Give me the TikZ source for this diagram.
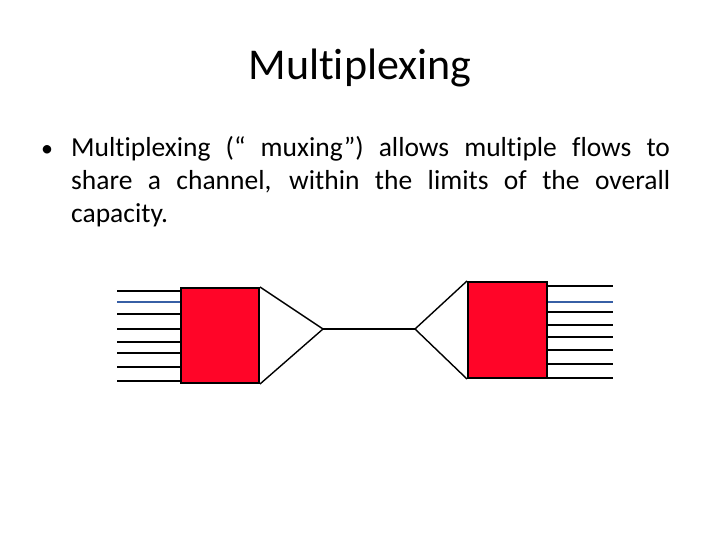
\documentclass[tikz,border=0pt]{standalone}
\usepackage{fontspec}
\setmainfont[Ligatures={NoCommon}]{Carlito}
\usetikzlibrary{positioning}
\definecolor{muxred}{RGB}{255,5,40}
\definecolor{flowblue}{RGB}{55,95,165}
\tikzset{
  muxbox/.style={draw=black, line width=2pt, fill=muxred, inner sep=0pt},
  funnel/.style={draw=black, line width=1.4pt, line join=miter},
  flow/.style={line width=#1, black},
}
\begin{document}
\begin{tikzpicture}[x=1pt, y=-1pt]
  \useasboundingbox (0,0) rectangle (720,540);

  % title and bullet text
  \node[font=\fontsize{44}{52}\selectfont] (title) at (360,68) {Multiplexing};
  \node[anchor=base west, font=\fontsize{24}{33}\selectfont, inner sep=0pt] (dot) at (41,157) {•};
  \node[anchor=base west, text width=599pt, align=justify, inner sep=0pt,
        font=\fontsize{27.5}{33}\selectfont] (body) at (71,157)
    {Multiplexing (“ muxing”) allows multiple flows to\linebreak share a channel, within the limits of the overall\linebreak capacity.};

  % the two multiplexers
  \node[muxbox, minimum width=78pt, minimum height=95pt] (lmux) at (220,335.5) {};
  \node[muxbox, minimum width=79pt, minimum height=96pt] (rmux) at (507.5,330) {};
  \coordinate (lapex) at (323,329);
  \coordinate (rapex) at (415,329);

  \draw[funnel] (lmux.north east) -- (lapex) -- (lmux.south east);
  \draw[funnel] (rmux.north west) -- (rapex) -- (rmux.south west);
  \draw[line width=1.4pt] (lapex) -- (rapex);

  % incoming flows
  \foreach \y/\w in {291/2.8pt, 314/2.2pt, 329/2.2pt, 342/2.8pt, 353/2.2pt, 367/2.8pt, 381/2.2pt} {
    \draw[flow=\w] (lmux.west |- 0,\y) -- ++(-63,0);
  }
  \draw[flow=1.4pt, flowblue] (lmux.west |- 0,302) -- ++(-63,0);

  % outgoing flows
  \foreach \y/\w in {286/2.2pt, 312/2.2pt, 325/2.8pt, 337/2.2pt, 350/2.8pt, 364/2.2pt, 378/2.2pt} {
    \draw[flow=\w] (rmux.east |- 0,\y) -- ++(65,0);
  }
  \draw[flow=1.4pt, flowblue] (rmux.east |- 0,302) -- ++(65,0);
\end{tikzpicture}
\end{document}
